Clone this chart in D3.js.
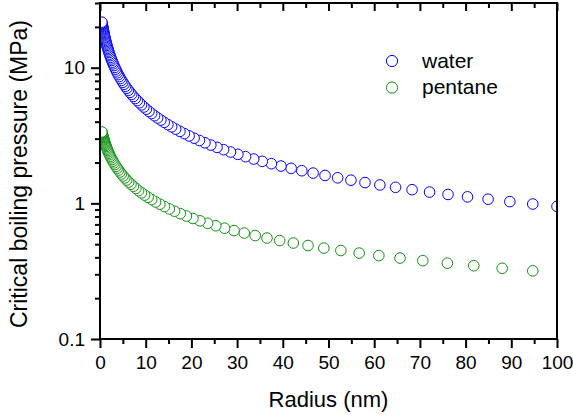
<!DOCTYPE html>
<html>
<head>
<meta charset="utf-8">
<script src="https://cdn.jsdelivr.net/npm/d3@7"></script>
<style>
  body { margin: 0; background: #fff; }
  text { font-family: "Liberation Sans", Arial, sans-serif; fill: #000; }
</style>
</head>
<body>
<script>
const WIDTH = 573;
const HEIGHT = 415;
const LEFT = 100, RIGHT = 557, TOP = 3, BOTTOM = 339;
const RAYON = 5.3;
const WATER_COLOR = "#0000ff";
const PENTANE_COLOR = "#109010";

// radius (nm) and critical boiling pressure (MPa), drawn in this order
const WATER_R = [100, 94.70, 89.68, 84.92, 80.42, 76.15, 72.11, 68.29, 64.67, 61.24,
  57.99, 54.91, 52.00, 49.24, 46.63, 44.16, 41.82, 39.60, 37.50, 35.51,
  33.63, 31.85, 30.16, 28.56, 27.04, 25.61, 24.25, 22.97, 21.75, 20.59,
  19.50, 18.47, 17.49, 16.56, 15.68, 14.85, 14.06, 13.32, 12.61, 11.94,
  11.31, 10.71, 10.14, 9.60, 9.09, 8.61, 8.15, 7.72, 7.31, 6.92,
  6.56, 6.21, 5.88, 5.57, 5.27, 4.99, 4.73, 4.48, 4.24, 4.01,
  3.80, 3.60, 3.41, 3.23, 3.05, 2.89, 2.74, 2.59, 2.46, 2.33,
  2.20, 2.09, 1.97, 1.87, 1.77, 1.68, 1.59, 1.50, 1.42, 1.35,
  1.28, 1.21, 1.14, 1.08, 1.03, 0.97, 0.92, 0.87, 0.82, 0.78,
  0.74, 0.70, 0.66, 0.63, 0.59, 0.56, 0.53, 0.50, 0.48, 0.45,
  0.43, 0.40];
const WATER_P = [0.950, 0.989, 1.030, 1.073, 1.117, 1.163, 1.211, 1.261, 1.313, 1.367,
  1.423, 1.482, 1.543, 1.606, 1.672, 1.740, 1.811, 1.884, 1.961, 2.040,
  2.123, 2.209, 2.298, 2.391, 2.487, 2.587, 2.690, 2.797, 2.908, 3.024,
  3.143, 3.267, 3.395, 3.527, 3.667, 3.807, 3.955, 4.111, 4.265, 4.428,
  4.595, 4.766, 4.948, 5.133, 5.324, 5.519, 5.723, 5.930, 6.143, 6.364,
  6.586, 6.819, 7.057, 7.299, 7.552, 7.808, 8.065, 8.332, 8.607, 8.892,
  9.173, 9.462, 9.755, 10.05, 10.37, 10.68, 10.98, 11.31, 11.61, 11.93,
  12.27, 12.58, 12.94, 13.26, 13.59, 13.91, 14.25, 14.60, 14.94, 15.25,
  15.57, 15.91, 16.26, 16.59, 16.87, 17.22, 17.52, 17.84, 18.17, 18.45,
  18.73, 19.03, 19.34, 19.58, 19.91, 20.16, 20.43, 20.70, 20.88, 21.17,
  21.36, 21.66];

const PENTANE_R = [94.70, 88.01, 81.79, 76.01, 70.64, 65.65, 61.02, 56.71, 52.70, 48.98,
  45.52, 42.30, 39.32, 36.54, 33.96, 31.56, 29.33, 27.26, 25.33, 23.54,
  21.88, 20.33, 18.90, 17.56, 16.32, 15.17, 14.10, 13.10, 12.18, 11.32,
  10.52, 9.77, 9.08, 8.44, 7.85, 7.29, 6.78, 6.30, 5.85, 5.44,
  5.06, 4.70, 4.37, 4.06, 3.77, 3.51, 3.26, 3.03, 2.82, 2.62,
  2.43, 2.26, 2.10, 1.95, 1.82, 1.69, 1.57, 1.46, 1.35, 1.26,
  1.17, 1.09, 1.01, 0.94, 0.87, 0.81, 0.75, 0.70, 0.65, 0.60,
  0.56, 0.52, 0.48, 0.45, 0.42, 0.39];
const PENTANE_P = [0.318, 0.332, 0.347, 0.362, 0.378, 0.395, 0.412, 0.430, 0.449, 0.468,
  0.489, 0.510, 0.532, 0.555, 0.579, 0.604, 0.630, 0.656, 0.684, 0.713,
  0.743, 0.774, 0.806, 0.840, 0.875, 0.910, 0.947, 0.986, 1.024, 1.066,
  1.108, 1.151, 1.196, 1.241, 1.288, 1.336, 1.385, 1.436, 1.488, 1.540,
  1.593, 1.648, 1.703, 1.760, 1.817, 1.873, 1.931, 1.989, 2.047, 2.106,
  2.167, 2.225, 2.284, 2.343, 2.397, 2.455, 2.512, 2.568, 2.627, 2.678,
  2.732, 2.782, 2.835, 2.884, 2.934, 2.980, 3.027, 3.068, 3.111, 3.155,
  3.192, 3.229, 3.268, 3.298, 3.329, 3.361];

const X_DOMAIN = [0, 100];
const Y_DOMAIN = [0.1, 30];
const X_MAJOR = [0, 10, 20, 30, 40, 50, 60, 70, 80, 90, 100];
const X_MINOR = [5, 15, 25, 35, 45, 55, 65, 75, 85, 95];
const Y_MAJOR = [0.1, 1, 10];
const Y_MINOR = [0.2, 0.3, 0.4, 0.5, 0.6, 0.7, 0.8, 0.9, 2, 3, 4, 5, 6, 7, 8, 9, 20, 30];
const SERIES = ["water", "pentane"];

const svg = d3.select("body").append("svg")
  .attr("width", WIDTH).attr("height", HEIGHT);

const xScale = d3.scaleLinear().domain(X_DOMAIN).range([LEFT, RIGHT]);
const yScale = d3.scaleLog().domain(Y_DOMAIN).range([BOTTOM, TOP]);

// points, clipped to the frame like the original
svg.append("clipPath").attr("id", "plot-clip")
  .append("rect")
  .attr("x", LEFT).attr("y", TOP)
  .attr("width", RIGHT - LEFT).attr("height", BOTTOM - TOP);

const plot = svg.append("g").attr("clip-path", "url(#plot-clip)");

const drawSeries = (rs, ps, color) => {
  plot.append("g")
    .selectAll("circle")
    .data(rs.map((r, i) => ({ r: r, p: ps[i] })))
    .enter().append("circle")
    .attr("cx", d => xScale(d.r))
    .attr("cy", d => yScale(d.p))
    .attr("r", RAYON)
    .attr("fill", "#fff")
    .attr("stroke", color)
    .attr("stroke-width", 1);
};

drawSeries(WATER_R, WATER_P, WATER_COLOR);
drawSeries(PENTANE_R, PENTANE_P, PENTANE_COLOR);

// axes
const styleAxis = g => {
  g.select(".domain").remove();
  g.selectAll(".tick line").attr("stroke", "#000").attr("stroke-width", 2);
  g.selectAll(".tick text").style("font-size", "19px").attr("fill", "#000")
    .style("font-family", "'Liberation Sans', Arial, sans-serif");
};

svg.append("g")
  .attr("transform", "translate(0," + BOTTOM + ")")
  .call(d3.axisBottom(xScale).tickValues(X_MAJOR).tickSize(9).tickPadding(8).tickFormat(d3.format("d")))
  .call(styleAxis);
svg.append("g")
  .attr("transform", "translate(0," + BOTTOM + ")")
  .call(d3.axisBottom(xScale).tickValues(X_MINOR).tickSize(5).tickFormat(""))
  .call(styleAxis);

svg.append("g")
  .attr("transform", "translate(0," + TOP + ")")
  .call(d3.axisTop(xScale).tickValues(X_MAJOR).tickSize(-8).tickFormat(""))
  .call(styleAxis);
svg.append("g")
  .attr("transform", "translate(0," + TOP + ")")
  .call(d3.axisTop(xScale).tickValues(X_MINOR).tickSize(-5).tickFormat(""))
  .call(styleAxis);

svg.append("g")
  .attr("transform", "translate(" + LEFT + ",0)")
  .call(d3.axisLeft(yScale).tickValues(Y_MAJOR).tickSize(9).tickPadding(6).tickFormat(d => String(d)))
  .call(styleAxis);
svg.append("g")
  .attr("transform", "translate(" + LEFT + ",0)")
  .call(d3.axisLeft(yScale).tickValues(Y_MINOR).tickSize(5).tickFormat(""))
  .call(styleAxis);

// frame
svg.append("rect")
  .attr("x", LEFT).attr("y", TOP)
  .attr("width", RIGHT - LEFT).attr("height", BOTTOM - TOP)
  .attr("fill", "none")
  .attr("stroke", "#000")
  .attr("stroke-width", 2);

// titles
svg.append("text")
  .attr("x", (LEFT + RIGHT) / 2)
  .attr("y", 406.5)
  .attr("text-anchor", "middle")
  .style("font-size", "22px")
  .text("Radius (nm)");

svg.append("text")
  .attr("transform", "translate(27,174) rotate(-90)")
  .attr("text-anchor", "middle")
  .style("font-size", "23px")
  .text("Critical boiling pressure (MPa)");

// legend
const legend = svg.append("g").attr("transform", "translate(392,61)");
const colors = [WATER_COLOR, PENTANE_COLOR];
SERIES.forEach((name, i) => {
  legend.append("circle")
    .attr("cx", 0).attr("cy", i * 26.6)
    .attr("r", 5.6)
    .attr("fill", "#fff")
    .attr("stroke", colors[i])
    .attr("stroke-width", 1);
  legend.append("text")
    .attr("x", 30).attr("y", i * 26.6 + 6.5)
    .style("font-size", "21px")
    .text(name);
});
</script>
</body>
</html>
